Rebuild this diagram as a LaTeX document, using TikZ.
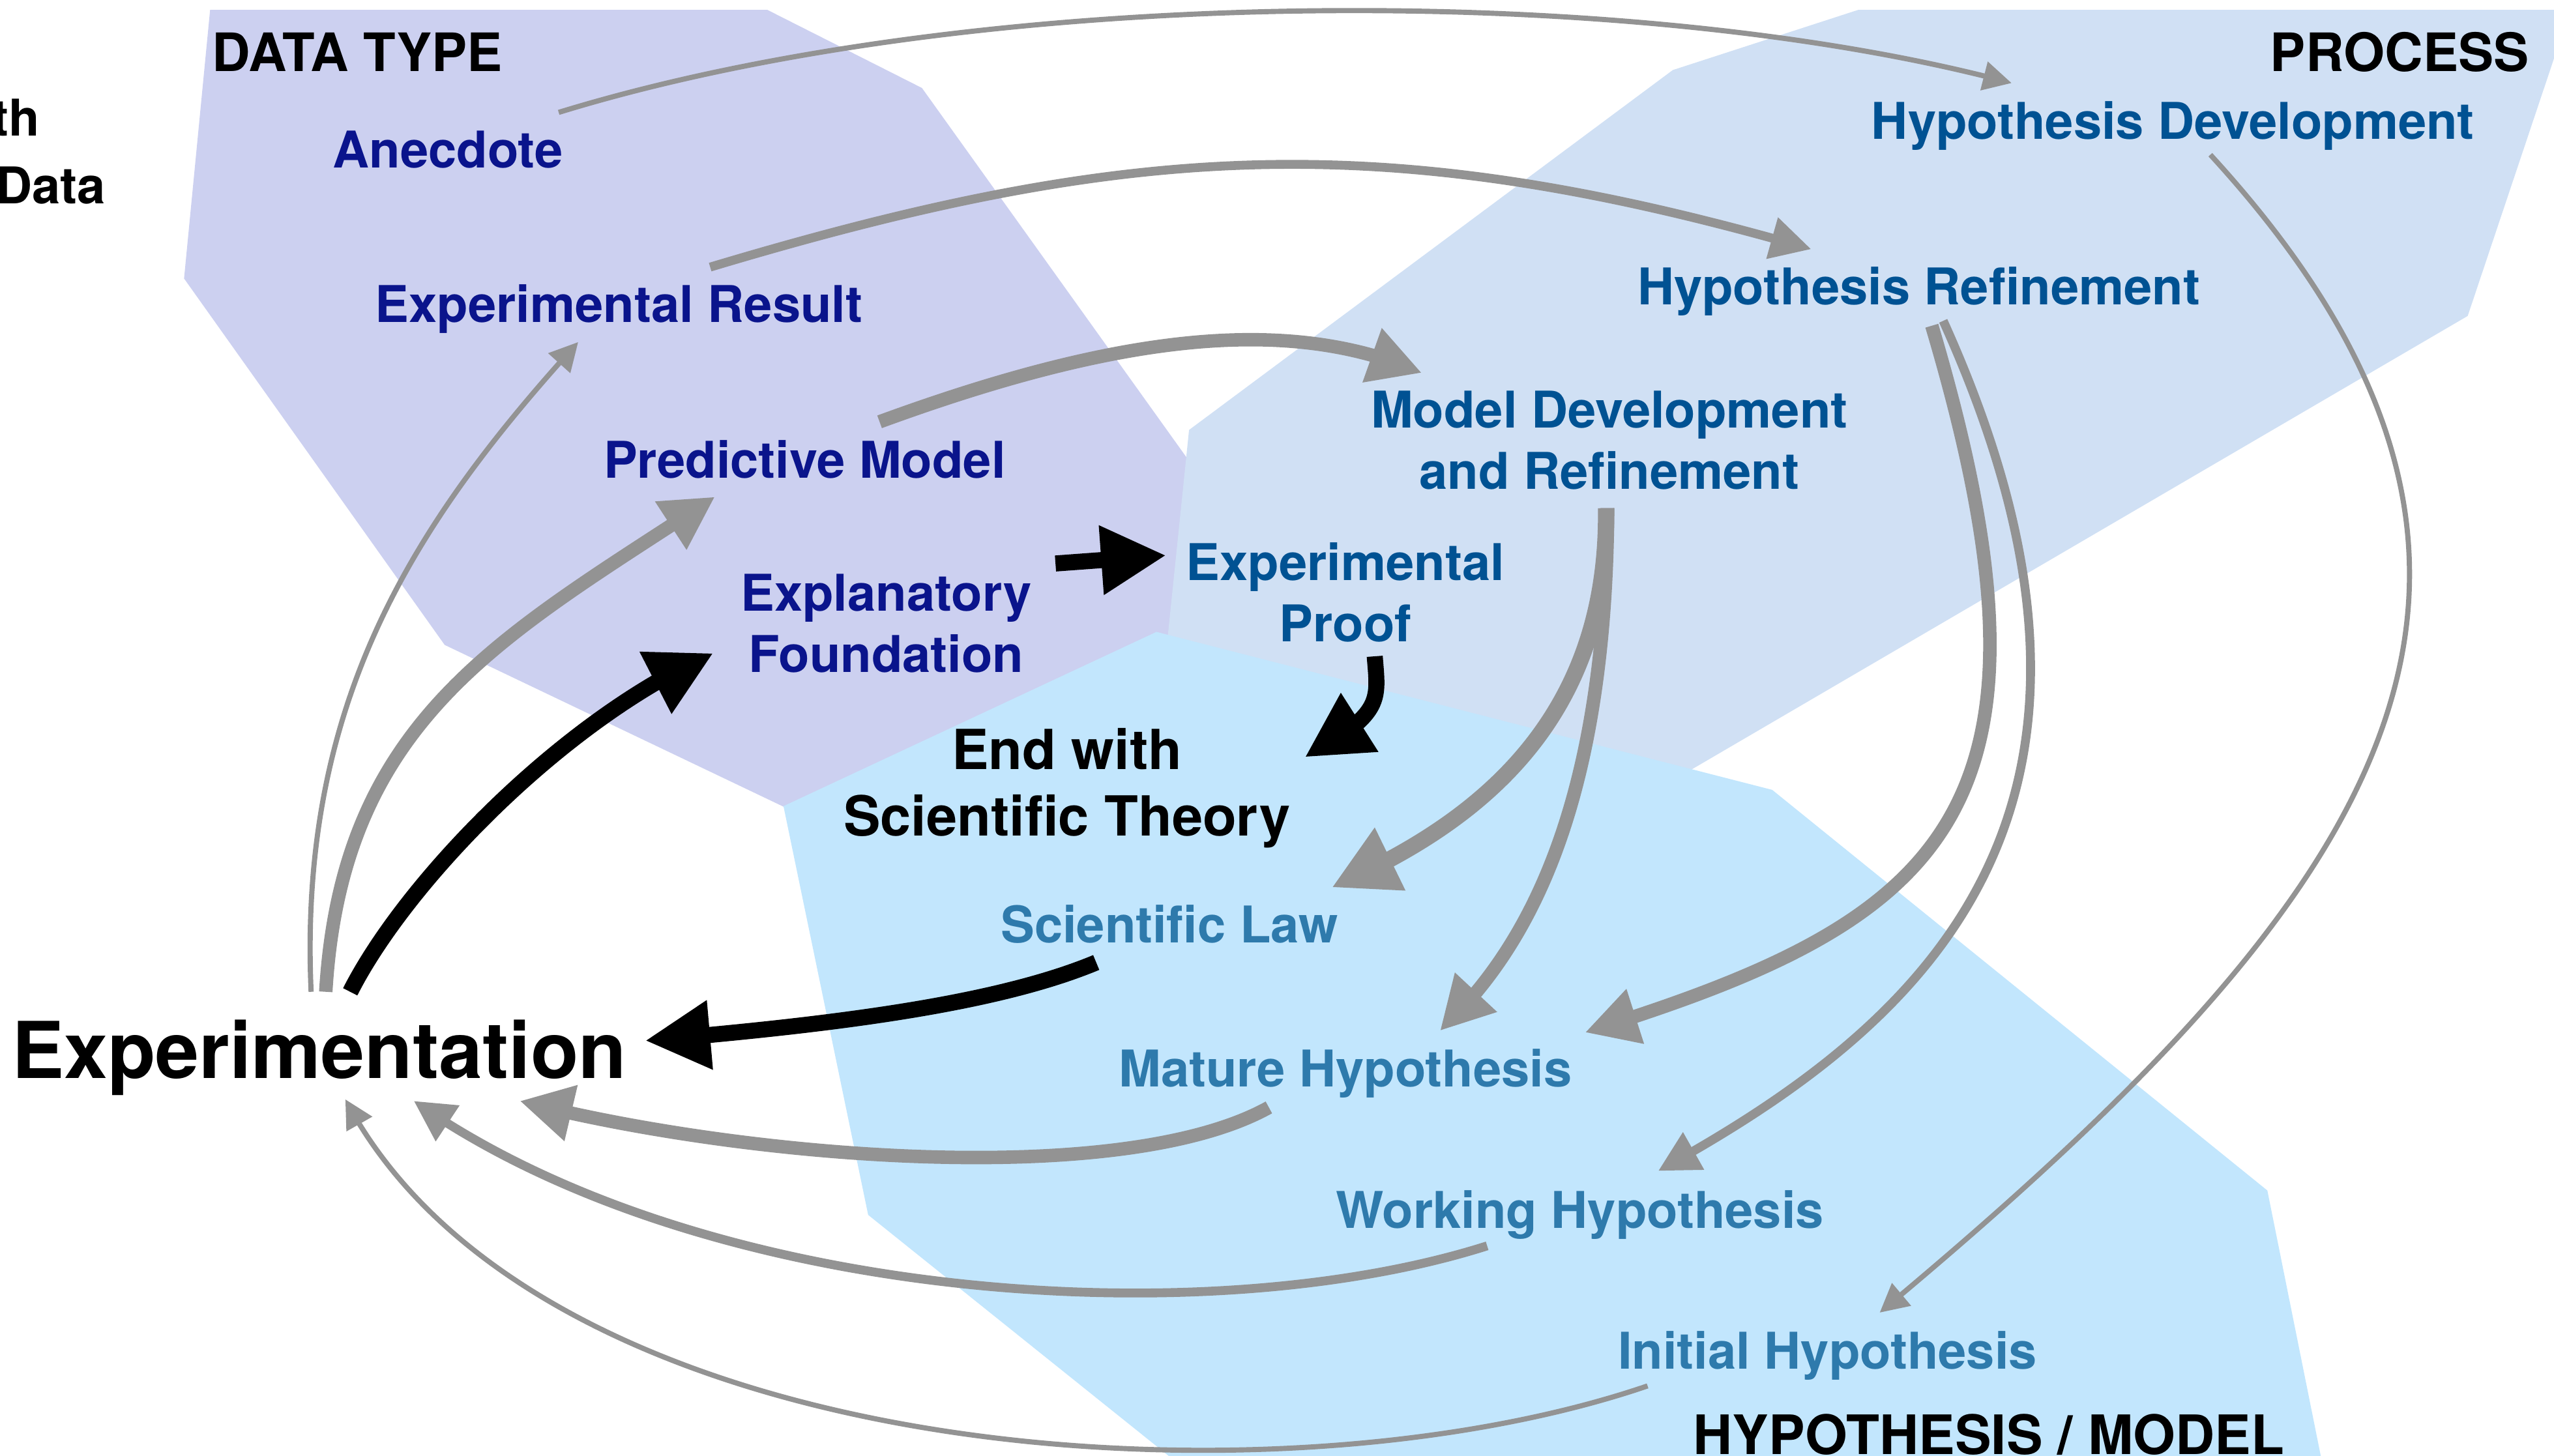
\documentclass[tikz,border=0pt]{standalone}
\usepackage{fontspec}
\setmainfont{TeX Gyre Heros}
\usetikzlibrary{arrows.meta,bending}
\definecolor{dtbg}{RGB}{204,208,240}
\definecolor{prbg}{RGB}{208,224,244}
\definecolor{hybg}{RGB}{194,230,253}
\definecolor{dttxt}{RGB}{10,20,140}
\definecolor{prtxt}{RGB}{0,82,147}
\definecolor{hytxt}{RGB}{46,122,172}
\definecolor{arrgray}{RGB}{147,147,147}

\begin{document}
\begin{tikzpicture}[x=0.02cm, y=-0.02cm,
  lbl/.style={inner sep=0pt, align=center, font=\fontsize{17.7}{21.3}\selectfont\bfseries},
  hdr/.style={inner sep=0pt, font=\fontsize{18.5}{21}\selectfont\bfseries},
  dt/.style={lbl, text=dttxt},
  pr/.style={lbl, text=prtxt},
  hy/.style={lbl, text=hytxt},
  thinarr/.style={draw=arrgray, line width=1.8pt, -{Triangle[length=0.35cm,width=0.35cm]}},
  medarr/.style={draw=arrgray, line width=3.1pt, -{Triangle[length=0.5cm,width=0.5cm]}},
  thickarr/.style={draw=arrgray, line width=4.7pt, -{Triangle[length=0.65cm,width=0.66cm]}},
  heavyarr/.style={draw=arrgray, line width=5.7pt, -{Triangle[length=0.8cm,width=0.8cm]}},
  blkarr/.style={draw=black, line width=5.6pt, -{Triangle[length=0.8cm,width=0.8cm]}}]

\useasboundingbox (0,0) rectangle (1568,894);

% background areas
\fill[dtbg] (129,6) -- (471,6) -- (566,54) -- (740,297) -- (740,400) -- (495,502) -- (273,396) -- (113,171) -- cycle;
\fill[prbg] (730,264) -- (1027,43) -- (1141,6) -- (1578,6) -- (1515,194) -- (1000,495) -- (716,420) -- (717,390) -- cycle;
\fill[hybg] (710,388) -- (1088,485) -- (1392,731) -- (1426,900) -- (725,900) -- (533,746) -- (481,495) -- cycle;

\node[hdr, anchor=base west] (dtype) at (130,44) {DATA TYPE};
\node[hdr, anchor=base east] (proc) at (1553,44) {PROCESS};
\node[hdr, font=\fontsize{19}{22}\selectfont\bfseries, anchor=base] (hymod) at (1221,893) {HYPOTHESIS / MODEL};
\node[lbl, anchor=base west] (th) at (-5.5,83.5) {th};
\node[lbl, anchor=base west] (data) at (-3,125) {Data};

\node[dt, anchor=base] (anec) at (275,103) {Anecdote};
\node[dt, anchor=base] (expres) at (380,198) {Experimental Result};
\node[dt, anchor=base] (pred) at (494,293.5) {Predictive Model};
\node[dt] (expl) at (544,382.7) {Explanatory\\Foundation};

\node[pr] (proof) at (826,363.7) {Experimental\\Proof};
\node[pr] (modev) at (988,270.4) {Model Development\\and Refinement};
\node[pr, anchor=base] (href) at (1178,187) {Hypothesis Refinement};
\node[pr, anchor=base] (hdev) at (1334,85.5) {Hypothesis Development};

\node[lbl, font=\fontsize{19.3}{23.2}\selectfont\bfseries] (endth) at (655,483.8) {End with\\Scientific Theory};

\node[hy, anchor=base] (slaw) at (718,579) {Scientific Law};
\node[hy, anchor=base] (mature) at (826,667.5) {Mature Hypothesis};
\node[hy, anchor=base] (work) at (970,754) {Working Hypothesis};
\node[hy, anchor=base] (init) at (1122,840.5) {Initial Hypothesis};

\node[lbl, font=\fontsize{27.4}{32}\selectfont\bfseries, anchor=base] (expt) at (196,662) {Experimentation};

% data type -> process
\draw[thinarr] ([shift={(68,-34)}]anec.base) .. controls +(257,-79) and +(-235,-63) .. ([shift={(-99,-34.5)}]hdev.base);
\draw[medarr] ([shift={(56,-34)}]expres.base) .. controls +(260,-78) and +(-260,-75) .. ([shift={(-66,-34)}]href.base);
\draw[thickarr] ([shift={(46,-34.5)}]pred.base) .. controls +(150,-55) and +(-80,-35) .. ([shift={(-115,-41.4)}]modev.center);
\draw[blkarr] ([shift={(104,-36.7)}]expl.center) -- ([shift={(-110,-22.7)}]proof.center);
\draw[blkarr] ([shift={(18,39.3)}]proof.center) .. controls +(2,27) and +(49,-27) .. ([shift={(146,-18.8)}]endth.center);

% process -> hypothesis
\draw[heavyarr] ([shift={(-2,41.6)}]modev.center) .. controls +(2,138) and +(79.5,-35) .. ([shift={(99.5,-34)}]slaw.base);
\draw[thickarr] ([shift={(-1,41.6)}]modev.center) .. controls +(-1,188) and +(51,-48) .. ([shift={(58,-34.5)}]mature.base);
\draw[thickarr] ([shift={(8,13)}]href.base) .. controls +(89,300) and +(222,-69) .. ([shift={(147,-33.5)}]mature.base);
\draw[medarr] ([shift={(15,10)}]href.base) .. controls +(137,303) and +(162,-89) .. ([shift={(48,-35)}]work.base);
\draw[thinarr] ([shift={(23,9.5)}]hdev.base) .. controls +(243,265) and +(300,-250) .. ([shift={(32,-34.5)}]init.base);

% hypothesis -> experimentation
\draw[blkarr] ([shift={(-45,12)}]slaw.base) .. controls +(-60,25) and +(120,-10) .. ([shift={(200,-23)}]expt.base);
\draw[thickarr] ([shift={(-47,12.5)}]mature.base) .. controls +(-90,50) and +(140,36) .. ([shift={(123,14)}]expt.base);
\draw[medarr] ([shift={(-57,11)}]work.base) .. controls +(-173,55) and +(176,124) .. ([shift={(58,14)}]expt.base);
\draw[thinarr] ([shift={(-110.5,10.5)}]init.base) .. controls +(-231.5,79) and +(118,225) .. ([shift={(16,13)}]expt.base);

% experimentation -> data type
\draw[thinarr] ([shift={(-5,-53)}]expt.base) .. controls +(-8,-179) and +(-100,110) .. ([shift={(-25,12)}]expres.base);
\draw[thickarr] ([shift={(4,-53)}]expt.base) .. controls +(10,-169) and +(-129,85) .. ([shift={(-55,11.5)}]pred.base);
\draw[blkarr] ([shift={(19,-53)}]expt.base) .. controls +(35,-69) and +(-90,39) .. ([shift={(-106,18.3)}]expl.center);
%\draw[blkarr] (expt) -- (expl);
\end{tikzpicture}
\end{document}
